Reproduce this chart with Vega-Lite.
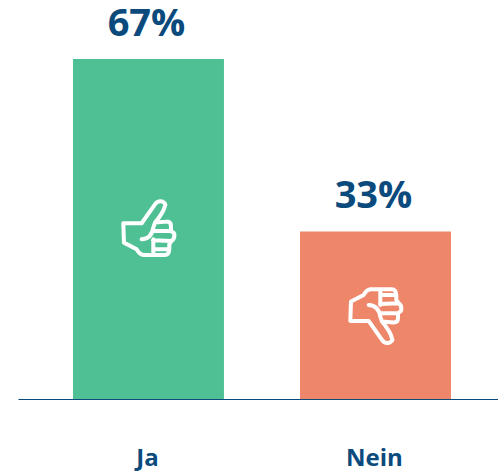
{
"$schema":"https://vega.github.io/schema/vega-lite/v6.json",
"width":480,"height":399,
"autosize":{"type":"none"},
"padding":{"left":18,"top":0,"right":0,"bottom":72},
"background":"white",
"data":{"values":[
{"antwort":"Ja","anteil":67,"label":"67%","icon":33.5},
{"antwort":"Nein","anteil":33,"label":"33%","icon":16.5}
]},
"config":{"view":{"stroke":null},"font":"Open Sans"},
"encoding":{
"x":{"field":"antwort","type":"nominal","sort":null,
"scale":{"paddingInner":0.335,"paddingOuter":0.2247,"align":0.539},
"axis":{"title":null,"labelAngle":0,"ticks":false,"labelPadding":47,"labelOffset":-1,"labelFontSize":24,"labelFontWeight":"bold","labelFont":"Open Sans","labelColor":"#0b4a7c","domainColor":"#0b4a7c","domainWidth":1.2,"zindex":1,"grid":false}}
},
"layer":[
{"mark":{"type":"bar"},
"encoding":{
"y":{"field":"anteil","type":"quantitative","scale":{"domain":[0,78.6],"nice":false},"axis":null},
"color":{"field":"antwort","type":"nominal","scale":{"domain":["Ja","Nein"],"range":["#4fc094","#ee876a"]},"legend":null}}},
{"mark":{"type":"text","font":"Open Sans","fontWeight":"bold","fontSize":38,"color":"#0b4a7c","baseline":"alphabetic","dy":-23,"dx":-2},
"encoding":{
"y":{"field":"anteil","type":"quantitative"},
"text":{"field":"label"}}},
{"mark":{"type":"point","filled":false,"fill":"transparent","stroke":"white","strokeWidth":4,"opacity":1,"size":3600,"strokeJoin":"round","strokeCap":"round"},
"encoding":{
"y":{"field":"icon","type":"quantitative"},
"shape":{"field":"antwort","type":"nominal","legend":null,"scale":{"domain":["Ja","Nein"],"range":[
"M-.839,-.189 L-.228,-.189 L.217,-.822 Q.3,-.95 .45,-.92 Q.6,-.85 .55,-.767 Q.5,-.55 .217,-.211 L.606,-.244 Q.75,-.24 .75,-.1 L.75,.067 Q.88,.15 .861,.178 Q.88,.33 .772,.4 L.694,.511 L.694,.678 Q.68,.867 .55,.867 L-.172,.867 Q-.3,.85 -.394,.678 L-.817,.456 Z M-.228,.344 Q.1,.33 .161,-.044 L.217,-.211 M.161,.067 L.75,.067 M.15,.378 L.772,.4 M.161,.344 L.161,.867 M.161,.678 L.694,.678",
"M-.839,.189 L-.228,.189 L.217,.822 Q.3,.95 .45,.92 Q.6,.85 .55,.767 Q.5,.55 .217,.211 L.606,.244 Q.75,.24 .75,.1 L.75,-.067 Q.88,-.15 .861,-.178 Q.88,-.33 .772,-.4 L.694,-.511 L.694,-.678 Q.68,-.867 .55,-.867 L-.172,-.867 Q-.3,-.85 -.394,-.678 L-.817,-.456 Z M-.228,-.344 Q.1,-.33 .161,.044 L.217,.211 M.161,-.067 L.75,-.067 M.15,-.378 L.772,-.4 M.161,-.344 L.161,-.867 M.161,-.678 L.694,-.678"
]}}}}
]
}
